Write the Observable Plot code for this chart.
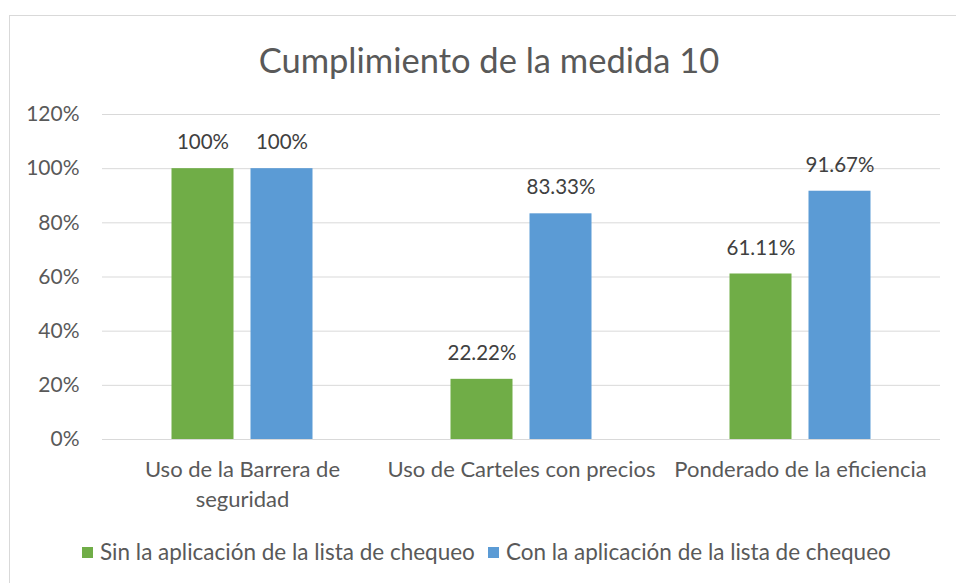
<!DOCTYPE html>
<html>
<head>
<meta charset="utf-8">
<script src="https://cdn.jsdelivr.net/npm/d3@7"></script>
<script src="https://cdn.jsdelivr.net/npm/@observablehq/plot@0.6"></script>
<style>
  html, body { margin: 0; padding: 0; background: #fff; }
  body { width: 956px; height: 583px; position: relative; overflow: hidden; font-family: Lato, "Open Sans", sans-serif; color: #595959; }
  #frame { position: absolute; left: 9px; top: 15px; width: 960px; height: 600px; border: 1px solid #d9d9d9; box-sizing: border-box; }
  #title { position: absolute; left: 9px; width: 960px; top: 36px; text-align: center; font-size: 34.5px; line-height: 48px; color: #595959; }
  #chart { position: absolute; left: 0; top: 0; }
  #legend { position: absolute; left: 82px; top: 538px; font-size: 22.5px; line-height: 28px; white-space: nowrap; display: flex; align-items: center; }
  .item { display: flex; align-items: center; margin-right: 13px; }
  .sw { width: 11px; height: 11px; display: inline-block; margin-right: 7px; }
</style>
</head>
<body>
<div id="frame"></div>
<div id="title">Cumplimiento de la medida 10</div>
<div id="chart"></div>
<div id="legend"></div>
<script>
const categories = ["Uso de la Barrera de seguridad", "Uso de Carteles con precios", "Ponderado de la eficiencia"];
const categoryLabels = ["Uso de la Barrera de\nseguridad", "Uso de Carteles con precios", "Ponderado de la eficiencia"];
const series = ["Sin la aplicación de la lista de chequeo", "Con la aplicación de la lista de chequeo"];
const sinValues = [1.0, 0.2222, 0.6111];
const conValues = [1.0, 0.8333, 0.9167];
const yTicks = [0, 0.2, 0.4, 0.6, 0.8, 1.0, 1.2];
const colors = ["#70AD47", "#5B9BD5"];

const sinRows = categories.map((c, i) => ({cat: c, serie: series[0], value: sinValues[i]}));
const conRows = categories.map((c, i) => ({cat: c, serie: series[1], value: conValues[i]}));
const fmt = v => `${+(v * 100).toFixed(2)}%`;
const offset = 39.5; // half of bar width + half gap, in px

const plot = Plot.plot({
  width: 956,
  height: 520,
  marginLeft: 102,
  marginRight: 16,
  marginTop: 114,
  marginBottom: 81,
  style: {fontFamily: "Lato, 'Open Sans', sans-serif", color: "#595959", background: "transparent"},
  x: {domain: categories, paddingInner: 0.778, paddingOuter: 0.389, label: null},
  y: {domain: [0, 1.2], label: null},
  color: {domain: series, range: colors},
  marks: [
    Plot.gridY(yTicks, {stroke: "#d9d9d9", strokeOpacity: 1, strokeWidth: 1}),
    Plot.barY(sinRows, {x: "cat", y: "value", fill: "serie", dx: -offset}),
    Plot.barY(conRows, {x: "cat", y: "value", fill: "serie", dx: offset}),
    Plot.text(sinRows, {x: "cat", y: "value", text: d => fmt(d.value), dx: -offset, dy: -26, fill: "#404040", fontSize: 20.5, textAnchor: "middle"}),
    Plot.text(conRows, {x: "cat", y: "value", text: d => fmt(d.value), dx: offset, dy: -26, fill: "#404040", fontSize: 20.5, textAnchor: "middle"}),
    Plot.axisY({ticks: yTicks, tickFormat: d => Math.round(d * 100) + "%", tickSize: 0, tickPadding: 23, fontSize: 21, label: null}),
    Plot.axisX({tickSize: 0, tickPadding: 16, fontSize: 22, lineHeight: 1.36, label: null,
      tickFormat: d => categoryLabels[categories.indexOf(d)]})
  ]
});
document.getElementById("chart").appendChild(plot);

const legend = document.getElementById("legend");
series.forEach((s, i) => {
  const item = document.createElement("span");
  item.className = "item";
  item.innerHTML = `<span class="sw" style="background:${colors[i]}"></span><span>${s}</span>`;
  legend.appendChild(item);
});
</script>
</body>
</html>
